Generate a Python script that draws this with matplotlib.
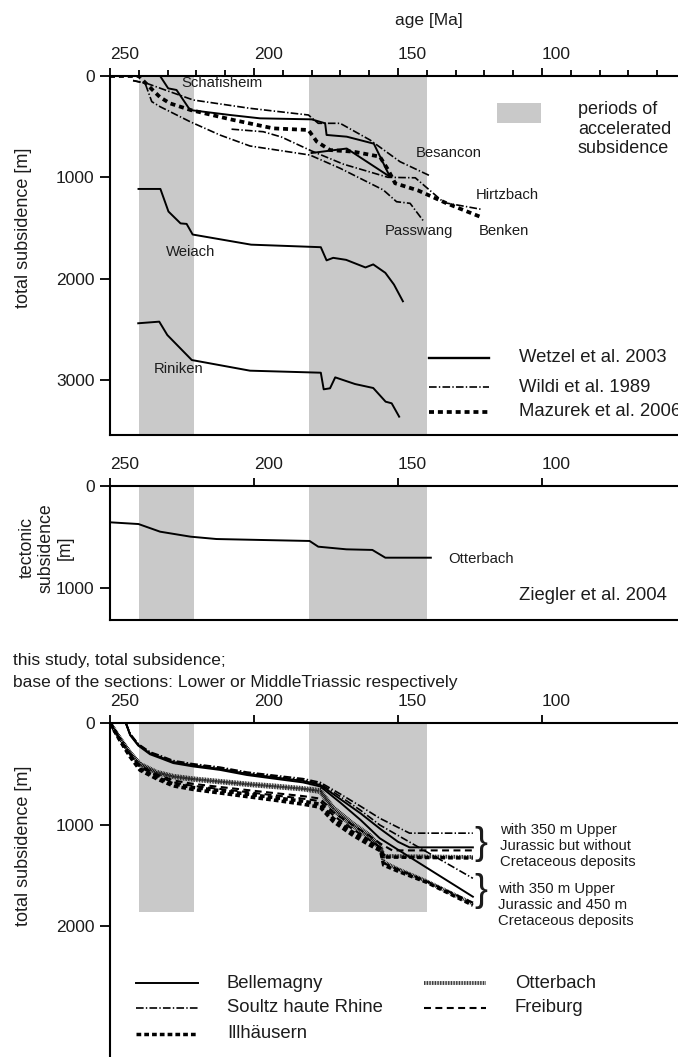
import matplotlib
matplotlib.use("Agg")
import matplotlib.pyplot as plt
from matplotlib.lines import Line2D
from matplotlib.patches import Rectangle

plt.rcParams['font.family'] = ['Liberation Sans', 'DejaVu Sans']
plt.rcParams['lines.scale_dashes'] = False
TXT = '#1c1c1c'
GREY = '#c9c9c9'

# ---------------- data ----------------
# periods of accelerated subsidence (Ma)
bands = [(240.0, 221.0), (181.0, 140.0)]

# upper panel: total subsidence (age Ma, depth m)
schafisheim_age = [240.0, 232.6, 229.8, 226.9, 222.2, 208.3, 197.9, 180.0, 175.3, 174.8, 167.8, 158.4, 152.8]
schafisheim_dep = [0, 0, 122, 138, 336, 385, 418, 428, 467, 582, 599, 668, 995]
wetzel_b_age = [180.0, 167.8, 152.8]
wetzel_b_dep = [760, 716, 995]
weiach_age = [240.1, 232.5, 229.7, 225.5, 223.4, 221.3, 201.0, 176.8, 174.8, 172.5, 168.0, 161.3, 158.6, 154.4, 151.4, 148.3]
weiach_dep = [1115, 1115, 1338, 1455, 1460, 1565, 1665, 1690, 1820, 1795, 1815, 1890, 1860, 1943, 2059, 2224]
riniken_age = [240.2, 232.9, 230.1, 221.6, 201.4, 176.8, 175.8, 173.6, 171.8, 164.9, 158.6, 154.3, 152.2, 149.6]
riniken_dep = [2441, 2425, 2557, 2804, 2909, 2929, 3093, 3083, 2975, 3041, 3080, 3215, 3231, 3363]
besancon_age = [242.0, 237.3, 229.2, 221.1, 201.4, 181.1, 177.7, 170.1, 159.7, 149.3, 138.9]
besancon_dep = [45, 72, 155, 237, 319, 385, 467, 467, 632, 846, 985]
passwang_age = [242.0, 237.8, 235.5, 232.6, 222.2, 211.8, 201.4, 180.6, 170.1, 155.1, 150.5, 145.8, 141.2]
passwang_dep = [45, 72, 253, 303, 451, 583, 691, 780, 911, 1125, 1241, 1257, 1430]
hirtzbach_age = [207.8, 196.8, 190.5, 180.0, 169.0, 153.5, 144.0, 134.0, 121.3]
hirtzbach_dep = [525, 550, 602, 740, 870, 1000, 1005, 1250, 1315]
benken_age = [250.0, 240.0, 237.3, 232.6, 229.2, 222.0, 207.2, 193.3, 181.1, 178.2, 173.6, 165.5, 156.3, 153.4, 151.0, 143.0, 133.1, 121.5]
benken_dep = [0, 0, 80, 210, 270, 336, 434, 517, 533, 648, 731, 747, 796, 928, 1059, 1130, 1257, 1389]

# middle panel: tectonic subsidence, Otterbach
otterbach_tect_age = [250.0, 240.1, 232.6, 222.0, 213.0, 198.0, 180.7, 177.7, 167.9, 158.9, 154.4, 138.6]
otterbach_tect_dep = [356, 373, 448, 497, 520, 529, 539, 595, 621, 627, 703, 703]

# lower panel: this study, without / with Cretaceous deposits
bel_no_age = [244.5, 243.0, 240.2, 236.1, 232.6, 228.0, 221.1, 211.8, 202.5, 193.0, 183.0, 177.0, 170.0, 163.0, 156.3, 150.0, 146.0, 124.0]
bel_no_dep = [0, 115, 215, 300, 335, 385, 418, 452, 500, 535, 570, 610, 750, 890, 1040, 1170, 1225, 1225]
bel_cr_age = [244.5, 243.0, 240.2, 236.1, 232.6, 228.0, 221.1, 211.8, 202.5, 193.0, 183.0, 177.0, 170.0, 163.0, 156.3, 124.0]
bel_cr_dep = [0, 120, 222, 308, 345, 395, 428, 462, 512, 548, 585, 625, 785, 955, 1136, 1711]
sou_no_age = [244.5, 243.0, 240.2, 236.1, 232.6, 228.0, 221.1, 211.8, 202.5, 193.0, 183.0, 177.0, 170.0, 163.0, 156.3, 146.0, 124.0]
sou_no_dep = [0, 105, 205, 285, 320, 370, 402, 435, 483, 515, 548, 585, 700, 820, 939, 1085, 1085]
sou_cr_age = [244.5, 243.0, 240.2, 236.1, 232.6, 228.0, 221.1, 211.8, 202.5, 193.0, 183.0, 177.0, 170.0, 163.0, 156.3, 124.0]
sou_cr_dep = [0, 110, 210, 292, 327, 378, 410, 445, 492, 525, 560, 598, 725, 860, 1005, 1530]
ott_no_age = [250.0, 246.5, 243.1, 239.6, 233.8, 228.0, 221.1, 211.8, 202.5, 193.0, 183.0, 177.0, 172.5, 166.0, 160.0, 156.0, 155.0, 124.0]
ott_no_dep = [0, 150, 285, 400, 480, 520, 545, 570, 595, 615, 640, 660, 830, 980, 1100, 1220, 1310, 1320]
ott_cr_age = [250.0, 246.5, 243.1, 239.6, 233.8, 228.0, 221.1, 211.8, 202.5, 193.0, 183.0, 177.0, 172.5, 166.0, 160.0, 156.0, 155.0, 150.0, 140.0, 124.0]
ott_cr_dep = [0, 155, 295, 410, 495, 535, 560, 585, 610, 632, 655, 680, 860, 1010, 1130, 1240, 1370, 1440, 1560, 1780]
fre_no_age = [250.0, 246.5, 243.1, 239.6, 233.8, 228.0, 221.1, 211.8, 202.5, 193.0, 183.0, 177.0, 172.5, 166.0, 160.0, 156.0, 152.0, 124.0]
fre_no_dep = [0, 160, 300, 420, 505, 565, 600, 630, 660, 690, 720, 745, 880, 1000, 1110, 1190, 1255, 1255]
fre_cr_age = [250.0, 246.5, 243.1, 239.6, 233.8, 228.0, 221.1, 211.8, 202.5, 193.0, 183.0, 177.0, 172.5, 166.0, 160.0, 156.0, 155.0, 150.0, 140.0, 124.0]
fre_cr_dep = [0, 165, 310, 435, 520, 585, 620, 650, 680, 712, 745, 770, 910, 1040, 1150, 1230, 1380, 1440, 1560, 1770]
ill_no_age = [250.0, 246.5, 243.1, 239.6, 233.8, 228.0, 221.1, 211.8, 202.5, 193.0, 183.0, 177.0, 172.5, 166.0, 160.0, 156.0, 155.0, 124.0]
ill_no_dep = [0, 170, 320, 450, 535, 600, 635, 665, 700, 735, 770, 800, 940, 1070, 1170, 1235, 1320, 1330]
ill_cr_age = [250.0, 246.5, 243.1, 239.6, 233.8, 228.0, 221.1, 211.8, 202.5, 193.0, 183.0, 177.0, 172.5, 166.0, 160.0, 156.0, 155.0, 150.0, 140.0, 124.0]
ill_cr_dep = [0, 175, 330, 465, 550, 620, 655, 690, 725, 760, 800, 830, 970, 1100, 1200, 1260, 1400, 1460, 1570, 1795]

x_major = [250, 200, 150, 100]
x_minor = list(range(250, 50, -10))

# ---------------- styles ----------------
SOLID = dict(color='black', lw=1.4, ls='-')
DASHDOT = dict(color='black', lw=1.2, ls=(0, (5.5, 1.6, 1.0, 1.6)))
HEAVYDASH = dict(color='black', lw=2.7, ls=(0, (3.6, 2.8)))
ILLDASH = dict(color='black', lw=2.5, ls=(0, (3.4, 2.2)))
FREDASH = dict(color='black', lw=1.5, ls=(0, (5.0, 3.2)))
DOTTED = dict(color='black', lw=2.8, ls=(0, (0.55, 0.6)))

W, H = 678, 1057
fig = plt.figure(figsize=(W / 100, H / 100), dpi=100)


def fx(px):
    return px / W


def fy(py):
    return 1 - py / H


X_RIGHT = 250 - 568 / 2.88


def frame(ax, ymax, yticks, minor, band_depth=None, bottom=True):
    ax.set_xlim(250, X_RIGHT)
    ax.set_ylim(ymax, 0)
    for a, b in bands:
        if band_depth is None:
            ax.axvspan(b, a, color=GREY, lw=0, zorder=0)
        else:
            ax.add_patch(Rectangle((b, 0), a - b, band_depth, color=GREY, lw=0, zorder=0))
    ax.spines['right'].set_visible(False)
    ax.spines['bottom'].set_visible(bottom)
    for s in ('top', 'left', 'bottom'):
        ax.spines[s].set_linewidth(1.5)
    ax.xaxis.tick_top()
    ax.set_xticks(x_major)
    ax.set_xticklabels([str(v) for v in x_major])
    if minor:
        ax.set_xticks(x_minor, minor=True)
    ax.tick_params(axis='x', which='major', direction='out', length=6, width=1.3,
                   pad=4, labelsize=12.5, labelcolor=TXT)
    ax.tick_params(axis='x', which='minor', direction='out', length=4.5, width=1.3)
    ax.set_yticks(yticks)
    ax.set_yticklabels([str(v) for v in yticks])
    ax.tick_params(axis='y', direction='out', length=7, width=1.3, pad=4,
                   labelsize=12.5, labelcolor=TXT)
    for t in ax.xaxis.get_major_ticks():
        t.label2.set_horizontalalignment('left')


# ---------------- upper panel ----------------
ax1 = fig.add_axes([fx(110), fy(435), 568 / W, (435 - 76) / H])
frame(ax1, 3544, [0, 1000, 2000, 3000], True)
ax1.plot(schafisheim_age, schafisheim_dep, **SOLID)
ax1.plot(wetzel_b_age, wetzel_b_dep, **SOLID)
ax1.plot(weiach_age, weiach_dep, **SOLID)
ax1.plot(riniken_age, riniken_dep, **SOLID)
ax1.plot(besancon_age, besancon_dep, **DASHDOT)
ax1.plot(passwang_age, passwang_dep, **DASHDOT)
ax1.plot(hirtzbach_age, hirtzbach_dep, **DASHDOT)
ax1.plot(benken_age, benken_dep, **HEAVYDASH)

fig.text(fx(429), fy(20), 'age [Ma]', ha='center', va='center', fontsize=12.5, color=TXT)
fig.text(fx(24), fy(228), 'total subsidence [m]', rotation=90, ha='center', va='center',
         fontsize=13, color=TXT)

site_kw = dict(fontsize=10.7, color=TXT, ha='left', va='center')
for name, (px, py) in {'Schafisheim': (181, 83), 'Besancon': (416, 153), 'Hirtzbach': (476, 195),
                       'Passwang': (385, 231), 'Benken': (479, 231), 'Weiach': (166, 252),
                       'Riniken': (154, 369)}.items():
    fig.text(fx(px), fy(py), name, **site_kw)

# band legend
fig.patches.append(Rectangle((fx(497), fy(123)), (541 - 497) / W, 20 / H, color=GREY, lw=0,
                             transform=fig.transFigure, figure=fig))
fig.text(fx(578), fy(129), 'periods of\naccelerated\nsubsidence', ha='left', va='center',
         fontsize=13, color=TXT, linespacing=1.2)

# source legend
for py, sty, lab in [(358, SOLID, 'Wetzel et al. 2003'), (387, DASHDOT, 'Wildi et al. 1989'),
                     (412, HEAVYDASH, 'Mazurek et al. 2006')]:
    s = dict(sty)
    if sty is SOLID:
        s['lw'] = 1.7
    fig.add_artist(Line2D([fx(429), fx(489)], [fy(py), fy(py)], transform=fig.transFigure, **s))
    fig.text(fx(519), fy(py), lab, ha='left', va='center', fontsize=13.3, color=TXT)

# ---------------- middle panel ----------------
ax2 = fig.add_axes([fx(110), fy(620), 568 / W, (620 - 486) / H])
frame(ax2, 1314, [0, 1000], False)
ax2.plot(otterbach_tect_age, otterbach_tect_dep, **SOLID)
fig.text(fx(448), fy(559), 'Otterbach', **site_kw)
fig.text(fx(519), fy(595), 'Ziegler et al. 2004', ha='left', va='center', fontsize=13.3, color=TXT)
for px, line in [(27, 'tectonic'), (46, 'subsidence'), (65, '[m]')]:
    fig.text(fx(px), fy(548), line, rotation=90, ha='center', va='center',
             fontsize=12.8, color=TXT)

# ---------------- lower panel ----------------
ax3 = fig.add_axes([fx(110), 0, 568 / W, (H - 723) / H])
frame(ax3, 3290, [0, 1000, 2000], False, band_depth=1865, bottom=False)
ax3.plot(bel_no_age, bel_no_dep, **SOLID)
ax3.plot(bel_cr_age, bel_cr_dep, **SOLID)
ax3.plot(sou_no_age, sou_no_dep, **DASHDOT)
ax3.plot(sou_cr_age, sou_cr_dep, **DASHDOT)
ax3.plot(ott_no_age, ott_no_dep, **DOTTED)
ax3.plot(ott_cr_age, ott_cr_dep, **DOTTED)
ax3.plot(fre_no_age, fre_no_dep, **FREDASH)
ax3.plot(fre_cr_age, fre_cr_dep, **FREDASH)
ax3.plot(ill_no_age, ill_no_dep, **ILLDASH)
ax3.plot(ill_cr_age, ill_cr_dep, **ILLDASH)

fig.text(fx(13), fy(660), 'this study, total subsidence;', ha='left', va='center',
         fontsize=12.5, color=TXT)
fig.text(fx(13), fy(682), 'base of the sections: Lower or MiddleTriassic respectively',
         ha='left', va='center', fontsize=12.5, color=TXT)
fig.text(fx(24), fy(846), 'total subsidence [m]', rotation=90, ha='center', va='center',
         fontsize=13, color=TXT)

# braces and notes
fig.text(fx(481), fy(844), '}', ha='center', va='center', fontsize=28, color=TXT)
fig.text(fx(481), fy(891), '}', ha='center', va='center', fontsize=28, color=TXT)
fig.text(fx(500), fy(846), 'with 350 m Upper\nJurassic but without\nCretaceous deposits',
         ha='left', va='center', fontsize=10.7, color=TXT, linespacing=1.15)
fig.text(fx(498), fy(905), 'with 350 m Upper\nJurassic and 450 m\nCretaceous deposits',
         ha='left', va='center', fontsize=10.7, color=TXT, linespacing=1.15)

# site legend
for x0, x1, xt, py, sty, lab in [(136, 198, 227, 983, SOLID, 'Bellemagny'),
                                 (136, 198, 227, 1008, DASHDOT, 'Soultz haute Rhine'),
                                 (136, 198, 227, 1034, ILLDASH, 'Illhäusern'),
                                 (424, 486, 515, 983, DOTTED, 'Otterbach'),
                                 (424, 486, 515, 1008, FREDASH, 'Freiburg')]:
    fig.add_artist(Line2D([fx(x0), fx(x1)], [fy(py), fy(py)], transform=fig.transFigure, **sty))
    fig.text(fx(xt), fy(py), lab, ha='left', va='center', fontsize=13.3, color=TXT)

fig.savefig('out.png', dpi=100)
